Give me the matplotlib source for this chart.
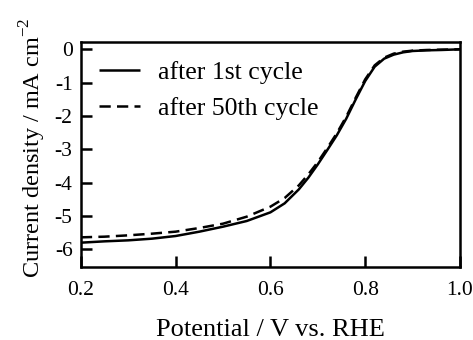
import matplotlib
matplotlib.use("Agg")
import matplotlib.pyplot as plt

# Data
potential_1st = [0.20, 0.25, 0.30, 0.35, 0.40, 0.45, 0.50, 0.55, 0.60, 0.63, 0.66, 0.68,
                 0.70, 0.72, 0.74, 0.76, 0.78, 0.80, 0.82, 0.84, 0.86, 0.88, 0.90, 0.93, 0.96, 1.00]
current_1st = [-5.80, -5.76, -5.73, -5.68, -5.60, -5.47, -5.32, -5.15, -4.89, -4.62, -4.20, -3.85,
               -3.45, -3.02, -2.58, -2.08, -1.50, -0.95, -0.52, -0.28, -0.16, -0.09, -0.05, -0.03, -0.02, 0.00]

potential_50th = [0.20, 0.25, 0.30, 0.35, 0.40, 0.45, 0.50, 0.55, 0.60, 0.63, 0.66, 0.68,
                  0.70, 0.72, 0.74, 0.76, 0.78, 0.80, 0.82, 0.84, 0.86, 0.88, 0.90, 0.93, 0.96, 1.00]
current_50th = [-5.64, -5.62, -5.58, -5.53, -5.47, -5.36, -5.23, -5.02, -4.72, -4.46, -4.08, -3.75,
                -3.38, -2.96, -2.52, -2.02, -1.45, -0.90, -0.48, -0.25, -0.13, -0.07, -0.04, -0.02, -0.01, 0.00]

x_ticks = [0.2, 0.4, 0.6, 0.8, 1.0]
x_tick_labels = ["0.2", "0.4", "0.6", "0.8", "1.0"]
y_ticks = [0, -1, -2, -3, -4, -5, -6]
y_tick_labels = ["0", "-1", "-2", "-3", "-4", "-5", "-6"]

plt.rcParams['font.family'] = ['Liberation Serif', 'DejaVu Serif']
plt.rcParams['mathtext.fontset'] = 'custom'
plt.rcParams['mathtext.rm'] = 'Liberation Serif'

fig = plt.figure(figsize=(4.73, 3.40), dpi=100)
ax = fig.add_axes([0.171, 0.2147, 0.9725 - 0.171, 0.8765 - 0.2147])

ax.plot(potential_1st, current_1st, color='black', lw=1.8, solid_capstyle='butt',
        label='after 1st cycle')
ax.plot(potential_50th, current_50th, color='black', lw=1.8, dashes=(4.5, 2.5),
        label='after 50th cycle')

ax.set_xlim(0.2, 1.0)
ax.set_ylim(-6.53, 0.22)
ax.set_xticks(x_ticks)
ax.set_xticklabels(x_tick_labels)
ax.set_yticks(y_ticks)
ax.set_yticklabels(y_tick_labels)

for s in ax.spines.values():
    s.set_linewidth(1.8)
ax.tick_params(axis='both', direction='in', length=8, width=1.8, labelsize=15.5)
ax.tick_params(axis='x', pad=10)
ax.tick_params(axis='y', pad=6)

ax.set_xlabel('Potential / V vs. RHE', fontsize=19, labelpad=13.5)
ax.set_ylabel('Current density / mA cm$^{-2}$', fontsize=17.5)
ax.yaxis.set_label_coords(-0.088, 0.531)

ax.legend(loc='upper left', bbox_to_anchor=(0.02, 0.96), frameon=False, fontsize=18.5,
          handlelength=1.6, handletextpad=0.7, labelspacing=0.5, borderaxespad=0)

fig.savefig('out.png', dpi=100)
